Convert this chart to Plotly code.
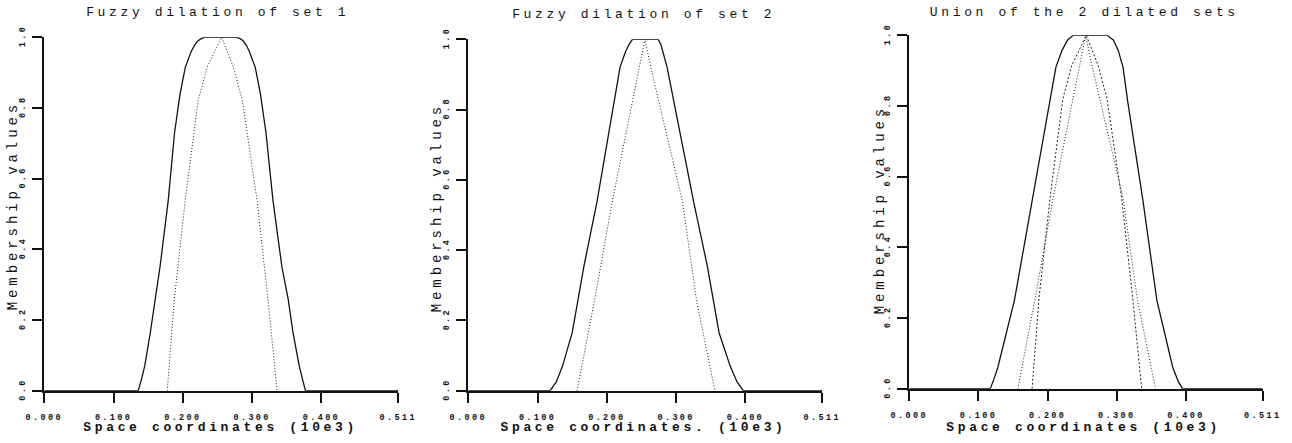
import plotly.graph_objects as go
from plotly.subplots import make_subplots

# x in units of 10e3, y = membership value
dil1_x = [0, 0.1356, 0.140, 0.145, 0.153, 0.160, 0.167, 0.179, 0.188, 0.196, 0.2035, 0.212, 0.217,
          0.222, 0.227, 0.232, 0.277, 0.282, 0.287, 0.2915, 0.296, 0.3045, 0.312, 0.320, 0.330,
          0.343, 0.352, 0.359, 0.368, 0.373, 0.377, 0.511]
dil1_y = [0, 0, 0.03, 0.07, 0.164, 0.26, 0.35, 0.54, 0.73, 0.84, 0.915, 0.96, 0.978,
          0.99, 0.997, 1.0, 1.0, 0.997, 0.99, 0.978, 0.96, 0.915, 0.84, 0.73, 0.54,
          0.35, 0.26, 0.164, 0.07, 0.03, 0, 0]

set1_x = [0.1775, 0.1876, 0.2035, 0.222, 0.235, 0.256, 0.273, 0.286, 0.307, 0.323, 0.336]
set1_y = [0, 0.257, 0.54, 0.82, 0.915, 1.0, 0.915, 0.82, 0.54, 0.257, 0]

dil2_x = [0, 0.118, 0.127, 0.136, 0.150, 0.167, 0.186, 0.202, 0.219, 0.2266, 0.232, 0.237,
          0.274, 0.278, 0.281, 0.287, 0.306, 0.325, 0.345, 0.362, 0.378, 0.388, 0.397, 0.511]
dil2_y = [0, 0, 0.025, 0.07, 0.165, 0.355, 0.54, 0.73, 0.92, 0.963, 0.985, 1.0,
          1.0, 0.985, 0.963, 0.92, 0.73, 0.54, 0.355, 0.165, 0.07, 0.025, 0, 0]

set2_x = [0.157, 0.1815, 0.208, 0.247, 0.255, 0.264, 0.309, 0.330, 0.356]
set2_y = [0, 0.25, 0.54, 0.915, 1.0, 0.915, 0.54, 0.25, 0]

union_x = [0, 0.117, 0.122, 0.128, 0.152, 0.1775, 0.203, 0.212, 0.221, 0.229, 0.237,
           0.286, 0.295, 0.302, 0.309, 0.316, 0.338, 0.358, 0.381, 0.389, 0.395, 0.511]
union_y = [0, 0, 0.025, 0.06, 0.25, 0.53, 0.81, 0.91, 0.958, 0.987, 1.0,
           1.0, 0.987, 0.958, 0.91, 0.81, 0.53, 0.25, 0.06, 0.02, 0, 0]

x_ticks = [0, 0.1, 0.2, 0.3, 0.4, 0.511]
x_labels = ["0.000", "0.100", "0.200", "0.300", "0.400", "0.511"]
y_ticks = [0, 0.2, 0.4, 0.6, 0.8, 1.0]
y_labels = ["0.0", "0.2", "0.4", "0.6", "0.8", "1.0"]

titles = ["Fuzzy dilation of set 1", "Fuzzy dilation of set 2", "Union of the 2 dilated sets"]
x_titles = ["Space coordinates (10e3)", "Space coordinates. (10e3)", "Space coordinates (10e3)"]
y_title = "Membership values"

W, H = 1292, 443
FONT = "Liberation Mono"
# plot area in pixels, the rest is margin
L, R, T, B = 44, 1263, 35, 391


def px_x(px):
    return (px - L) / (R - L)


def px_y(py):
    return (B - py) / (B - T)


fig = make_subplots(rows=1, cols=3)

solid = dict(color="#111", width=1.3)
dots = dict(color="#222", width=1, dash="1px,2px")
dashes = dict(color="#222", width=1, dash="2px,2px")

fig.add_trace(go.Scatter(x=dil1_x, y=dil1_y, mode="lines", line=solid), 1, 1)
fig.add_trace(go.Scatter(x=set1_x, y=set1_y, mode="lines", line=dots), 1, 1)
fig.add_trace(go.Scatter(x=dil2_x, y=dil2_y, mode="lines", line=solid), 1, 2)
fig.add_trace(go.Scatter(x=set2_x, y=set2_y, mode="lines", line=dots), 1, 2)
fig.add_trace(go.Scatter(x=union_x, y=union_y, mode="lines", line=solid), 1, 3)
fig.add_trace(go.Scatter(x=set1_x, y=set1_y, mode="lines", line=dashes), 1, 3)
fig.add_trace(go.Scatter(x=set2_x, y=set2_y, mode="lines", line=dots), 1, 3)
fig.update_traces(cliponaxis=False, showlegend=False, hoverinfo="skip")

# pixel boxes of the three panels: (left, right, top, bottom), nudged off whole pixels
boxes = [(44.3, 398.3, 37.3, 390.7), (468.3, 822.3, 39.3, 390.7), (909.3, 1262.7, 35.3, 388.7)]
for i, (l, r, t, b) in enumerate(boxes):
    n = "" if i == 0 else str(i + 1)
    fig.layout["xaxis" + n].update(
        domain=[px_x(l), px_x(r)], range=[0, 0.511], tickvals=x_ticks, ticktext=x_labels,
        showline=True, linecolor="#111", linewidth=2, ticks="outside", ticklen=10,
        tickwidth=2, tickcolor="#111", showgrid=False, zeroline=False, ticklabelstandoff=7,
        layer="above traces", tickfont=dict(family=FONT, size=8.5, color="#111", weight="bold"))
    fig.layout["yaxis" + n].update(
        domain=[px_y(b), px_y(t)], range=[0, 1], tickvals=y_ticks, ticktext=y_labels,
        showline=True, linecolor="#111", linewidth=2, ticks="outside", ticklen=10,
        tickwidth=2, tickcolor="#111", showgrid=False, zeroline=False, tickangle=-90,
        ticklabelstandoff=4, layer="above traces",
        tickfont=dict(family=FONT, size=8.5, color="#111", weight="bold"))

ann = []
title_pos = [(218, 13), (643, 14), (1084, 13)]
xt_pos = [(220, 427), (643, 427), (1083, 427)]
yt_pos = [(13, 206), (437, 208), (880, 210)]
for i in range(3):
    ann.append(dict(text=titles[i], x=px_x(title_pos[i][0]), y=px_y(title_pos[i][1]),
                    font=dict(family=FONT, size=13, color="#111")))
    ann.append(dict(text=x_titles[i], x=px_x(xt_pos[i][0]), y=px_y(xt_pos[i][1]),
                    font=dict(family=FONT, size=13, color="#111", weight="bold")))
    ann.append(dict(text=y_title, x=px_x(yt_pos[i][0]), y=px_y(yt_pos[i][1]), textangle=-90,
                    font=dict(family=FONT, size=14, color="#111")))
for a in ann:
    a.update(xref="paper", yref="paper", showarrow=False, xanchor="center", yanchor="middle")

fig.update_layout(width=W, height=H, margin=dict(l=L, r=W - R, t=T, b=H - B),
                  paper_bgcolor="white", plot_bgcolor="white", annotations=ann)

# drop the page margin, then give the text the wide, typewriter-like letter spacing of the old plot
post = """
document.body.style.margin = '0';
var gd = document.getElementById('{plot_id}');
gd.querySelectorAll('text').forEach(function(t){
  var fs = parseFloat(t.style.fontSize) || 12;
  t.style.letterSpacing = (0.28 * fs).toFixed(2) + 'px';
});
"""
fig.write_html("out.html", post_script=post, config={"displayModeBar": False})
